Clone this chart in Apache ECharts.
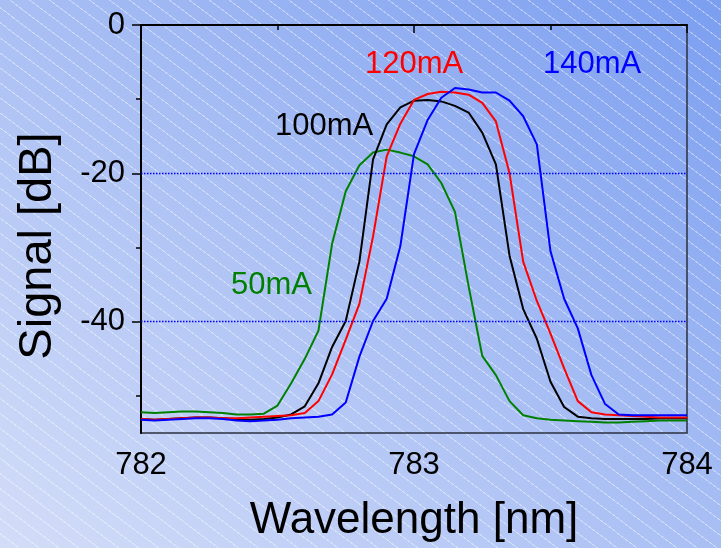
<!DOCTYPE html>
<html>
<head>
<meta charset="utf-8">
<script src="https://cdn.jsdelivr.net/npm/echarts@6/dist/echarts.min.js"></script>
<style>
  html, body { margin: 0; padding: 0; }
  #chart {
    width: 721px; height: 548px;
    background:
      repeating-linear-gradient(37deg, rgba(255,255,255,0) 0px, rgba(255,255,255,0) 11px, rgba(255,255,255,0.4) 11px, rgba(255,255,255,0.4) 12px),
      linear-gradient(to top right, #d3ddf8 0%, #a9bff4 50%, #7b9ef0 100%);
  }
</style>
</head>
<body>
<div id="chart"></div>
<script>
// ---- data ----
const wavelength = [782.00,782.05,782.10,782.15,782.20,782.25,782.30,782.35,782.40,782.45,
                    782.50,782.55,782.60,782.65,782.70,782.75,782.80,782.85,782.90,782.95,
                    783.00,783.05,783.10,783.15,783.20,783.25,783.30,783.35,783.40,783.45,
                    783.50,783.55,783.60,783.65,783.70,783.75,783.80,783.85,783.90,783.95,784.00];
const signal50mA  = [-52.2,-52.3,-52.2,-52.1,-52.1,-52.2,-52.3,-52.5,-52.5,-52.4,
                     -51.3,-48.3,-45.0,-41.2,-29.5,-22.4,-18.9,-17.2,-16.8,-17.2,
                     -17.7,-18.8,-21.3,-25.2,-35.2,-44.6,-47.2,-50.7,-52.6,-53.0,
                     -53.2,-53.3,-53.4,-53.5,-53.6,-53.6,-53.5,-53.4,-53.3,-53.3,-53.3];
const signal100mA = [-53.1,-53.2,-53.1,-53.0,-52.9,-52.9,-53.0,-53.1,-53.2,-53.1,
                     -52.9,-52.5,-51.4,-48.3,-43.4,-39.9,-31.9,-18.1,-13.4,-11.1,
                     -10.2,-10.1,-10.3,-10.9,-11.8,-14.5,-18.8,-31.1,-38.3,-42.3,
                     -48.1,-51.5,-52.8,-53.0,-53.1,-53.1,-53.1,-53.1,-53.0,-53.0,-53.0];
const signal120mA = [-53.1,-53.2,-53.1,-53.0,-52.9,-52.9,-53.0,-53.0,-52.9,-52.8,
                     -52.7,-52.6,-52.3,-50.7,-47.1,-42.4,-37.6,-28.5,-17.7,-13.3,
                     -10.1,-9.3,-9.0,-9.1,-9.4,-10.5,-13.0,-20.0,-31.9,-37.2,
                     -41.6,-46.3,-50.7,-52.2,-52.5,-52.6,-52.7,-52.8,-52.9,-52.9,-52.9];
const signal140mA = [-53.2,-53.3,-53.2,-53.1,-53.0,-53.0,-53.1,-53.3,-53.4,-53.3,
                     -53.2,-53.0,-52.9,-52.8,-52.5,-50.9,-44.7,-39.9,-36.9,-29.8,
                     -17.4,-12.8,-9.8,-8.5,-8.7,-9.1,-9.1,-10.2,-12.3,-16.1,
                     -30.5,-36.9,-40.9,-47.2,-51.1,-52.5,-52.6,-52.6,-52.6,-52.6,-52.6];
const seriesNames = ['50mA','100mA','120mA','140mA'];
const xMajorTicks = [782, 783, 784];
const xMinorTicks = [782.5, 783.5];
const yMajorTicks = [0, -20, -40];
const yMinorTicks = [-10, -30, -50];
const refLines = [-20, -40];
const xTitle = 'Wavelength [nm]';
const yTitle = 'Signal [dB]';

// ---- chart ----
const FONT = 'Liberation Sans, Arial, Helvetica, sans-serif';
const pair = arr => wavelength.map((w, i) => [w, arr[i]]);
const chart = echarts.init(document.getElementById('chart'), null, {renderer: 'canvas'});

function lineSeries(name, data, color, extra) {
  return Object.assign({
    name, type: 'line', data: pair(data), xAxisIndex: 0, yAxisIndex: 0,
    symbol: 'none', smooth: false, lineStyle: {color, width: 2}, itemStyle: {color},
    emphasis: {disabled: true}
  }, extra || {});
}

chart.setOption({
  animation: false,
  backgroundColor: 'transparent',
  grid: {left: 141, right: 34, top: 25, bottom: 114, show: true,
         borderColor: '#2b3040', borderWidth: 1.5, backgroundColor: 'transparent'},
  xAxis: [{
    type: 'value', min: 782, max: 784, position: 'bottom',
    axisLine: {lineStyle: {color: '#000', width: 2}},
    axisTick: {customValues: xMajorTicks, length: 8, lineStyle: {color: '#000', width: 1.5}},
    axisLabel: {customValues: xMajorTicks, fontSize: 31, color: '#000', margin: 17, fontFamily: FONT},
    splitLine: {show: false},
    name: xTitle, nameLocation: 'middle', nameGap: 66,
    nameTextStyle: {fontSize: 44, color: '#000', fontFamily: FONT}
  }, {
    type: 'value', min: 782, max: 784, position: 'bottom',
    axisLine: {show: false},
    axisTick: {customValues: xMinorTicks, length: 5, lineStyle: {color: '#000', width: 1.5}},
    axisLabel: {show: false}, splitLine: {show: false}
  }],
  yAxis: [{
    type: 'value', min: -55, max: 0, position: 'left',
    axisLine: {lineStyle: {color: '#000', width: 2}},
    axisTick: {customValues: yMajorTicks, length: 9, lineStyle: {color: '#000', width: 1.5}},
    axisLabel: {customValues: yMajorTicks, fontSize: 31, color: '#000', margin: 16, fontFamily: FONT},
    splitLine: {show: false}
  }, {
    type: 'value', min: -55, max: 0, position: 'left',
    axisLine: {show: false},
    axisTick: {customValues: yMinorTicks, length: 5, lineStyle: {color: '#000', width: 1.5}},
    axisLabel: {show: false}, splitLine: {show: false}
  }],
  series: [
    lineSeries(seriesNames[0], signal50mA, '#008000', {
      markLine: {silent: true, symbol: ['none', 'none'], label: {show: false},
                 lineStyle: {color: '#0000ff', type: [1.5, 1.5], width: 1.3, opacity: 1},
                 data: refLines.map(v => ({yAxis: v}))}
    }),
    lineSeries(seriesNames[1], signal100mA, '#000000'),
    lineSeries(seriesNames[2], signal120mA, '#ff0000'),
    lineSeries(seriesNames[3], signal140mA, '#0000ff')
  ],
  graphic: [
    {type: 'text', x: 38, y: 246, rotation: Math.PI / 2,
     style: {text: yTitle, fill: '#000', fontSize: 47, fontFamily: FONT, align: 'center', verticalAlign: 'middle'}},
    {type: 'text', x: 365, y: 64, style: {text: '120mA', fill: '#ff0000', fontSize: 31, fontFamily: FONT, verticalAlign: 'middle'}},
    {type: 'text', x: 543, y: 64, style: {text: '140mA', fill: '#0000ff', fontSize: 31, fontFamily: FONT, verticalAlign: 'middle'}},
    {type: 'text', x: 275, y: 126, style: {text: '100mA', fill: '#000000', fontSize: 31, fontFamily: FONT, verticalAlign: 'middle'}},
    {type: 'text', x: 231, y: 285, style: {text: '50mA', fill: '#008000', fontSize: 31, fontFamily: FONT, verticalAlign: 'middle'}}
  ]
});
</script>
</body>
</html>
